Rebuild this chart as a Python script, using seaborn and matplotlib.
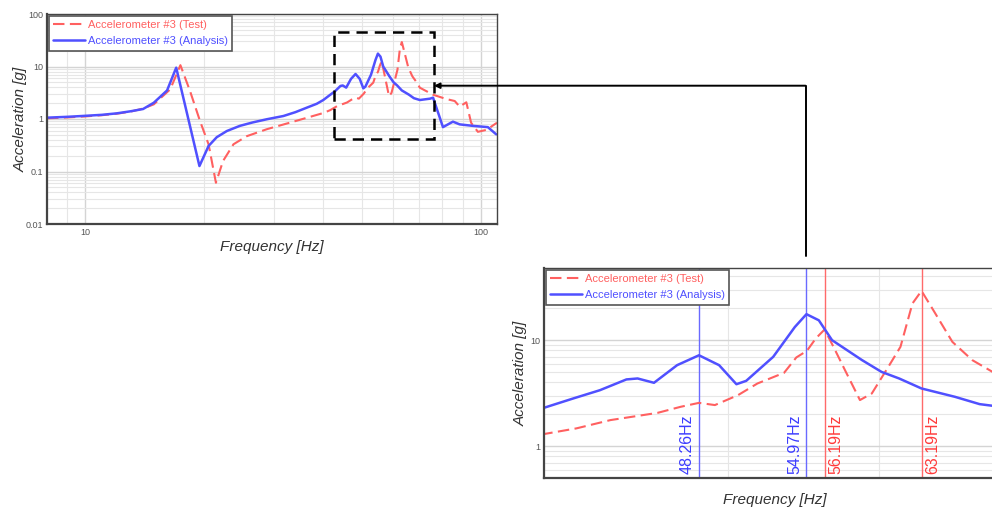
import numpy as np
import seaborn as sns
import matplotlib
matplotlib.use("Agg")
import matplotlib.pyplot as plt
from matplotlib.patches import Rectangle, FancyArrowPatch
from matplotlib.lines import Line2D
from matplotlib.ticker import LogLocator, FuncFormatter, NullFormatter

# Measured response of accelerometer #3 (test rig)
test_freq = [8.0, 9.0, 10.0, 11.0, 12.0, 13.0, 14.0, 14.9, 16.4, 17.4, 18.4, 19.5,
             20.5, 21.4, 22.3, 23.7, 25.6, 28.8, 33.6, 40.0, 41.6, 43.35, 45.9,
             47.2, 48.26, 49.2, 50.6, 51.8, 53.5, 54.3, 55.0, 55.6, 56.19, 56.8,
             57.6, 58.65, 59.5, 60.7, 61.6, 62.5, 63.19, 64.1, 65.6, 67.2, 69.0,
             70.2, 75.8, 81.9, 86.0, 88.5, 92.0, 94.6, 98.4, 103.4, 110.0]
test_acc = [1.03, 1.07, 1.12, 1.18, 1.26, 1.38, 1.58, 1.9, 3.68, 10.6, 3.42, 0.92,
            0.33, 0.061, 0.158, 0.33, 0.47, 0.64, 0.89, 1.30, 1.47, 1.76, 2.06,
            2.35, 2.56, 2.44, 3.03, 3.9, 4.92, 6.87, 7.93, 10.4, 12.6, 8.65,
            5.2, 2.72, 3.14, 5.6, 8.65, 22.2, 29.2, 19.2, 9.63, 6.48, 4.92,
            3.94, 2.9, 2.4, 2.2, 1.72, 2.08, 0.85, 0.57, 0.62, 0.85]

# Simulated response of accelerometer #3 (FE analysis)
analysis_freq = [8.0, 9.0, 10.0, 11.0, 12.0, 13.0, 14.0, 14.9, 16.1, 16.98, 19.44,
                 20.5, 21.5, 22.8, 24.6, 26.5, 28.8, 31.7, 34.0, 36.3, 38.5, 40.0,
                 41.45, 42.8, 44.2, 44.8, 45.7, 47.0, 48.26, 49.45, 50.5, 51.1,
                 52.8, 54.2, 54.97, 55.8, 56.7, 58.8, 60.2, 61.5, 63.19, 65.8,
                 67.8, 70.2, 74.5, 75.8, 80.3, 85.1, 88.5, 95.6, 104.3, 109.5]
analysis_acc = [1.06, 1.10, 1.15, 1.2, 1.28, 1.4, 1.55, 2.04, 3.5, 9.5, 0.127,
                0.306, 0.45, 0.59, 0.74, 0.86, 0.99, 1.14, 1.35, 1.64, 1.95, 2.3,
                2.82, 3.37, 4.26, 4.35, 3.96, 5.81, 7.2, 5.81, 3.84, 4.13,
                6.96, 13.3, 17.6, 15.4, 10.0, 6.48, 5.02, 4.35, 3.5, 2.92,
                2.49, 2.30, 2.44, 2.55, 0.70, 0.89, 0.79, 0.74, 0.70, 0.51]

# Resonance markers for the zoomed view
analysis_peaks = [48.26, 54.97]
test_peaks = [56.19, 63.19]

# Zoom window drawn on the overview
zoom_freq = [42.5, 76.0]
zoom_acc = [0.42, 45.0]

test_label = "Accelerometer #3 (Test)"
analysis_label = "Accelerometer #3 (Analysis)"

sns.set_theme(style="white")
plt.rcParams["font.family"] = ["Liberation Sans", "DejaVu Sans"]

RED = "#ff6060"
BLUE = "#5050ff"
RED_TXT = "#ff3a3a"
BLUE_TXT = "#3c3cff"
W, H = 992, 508

fig = plt.figure(figsize=(W / 100, H / 100), dpi=100)
ax_top = fig.add_axes([47 / W, 1 - 224 / H, 450 / W, 210 / H])
ax_zoom = fig.add_axes([544 / W, 1 - 478 / H, 462 / W, 210 / H])


def plain(v, pos):
    return f"{v:g}"


def style_axes(ax, xlim, ylim, xlabels=True):
    ax.set_xscale("log")
    ax.set_yscale("log")
    sns.lineplot(x=test_freq, y=test_acc, ax=ax, color=RED, lw=1.5,
                 linestyle=(0, (5.5, 2.6)), label=test_label, sort=False)
    sns.lineplot(x=analysis_freq, y=analysis_acc, ax=ax, color=BLUE, lw=1.8,
                 label=analysis_label, sort=False)
    ax.set_xlim(*xlim)
    ax.set_ylim(*ylim)
    for axis in (ax.xaxis, ax.yaxis):
        axis.set_major_locator(LogLocator(base=10, numticks=20))
        axis.set_minor_locator(LogLocator(base=10, subs=np.arange(2, 10), numticks=20))
        axis.set_minor_formatter(NullFormatter())
    ax.yaxis.set_major_formatter(FuncFormatter(plain))
    if xlabels:
        ax.xaxis.set_major_formatter(FuncFormatter(plain))
    else:
        ax.xaxis.set_major_formatter(NullFormatter())
    ax.grid(True, which="major", color="#d4d4d4", lw=1.0)
    ax.grid(True, which="minor", color="#e6e6e6", lw=0.8)
    ax.tick_params(which="both", length=0, labelsize=6.5, labelcolor="#555555", pad=3)
    for name, sp in ax.spines.items():
        sp.set_visible(True)
        sp.set_color("#444444")
        sp.set_linewidth(1.6 if name in ("left", "bottom") else 1.0)
    leg = ax.legend(loc="upper left", fontsize=8, frameon=True, fancybox=False,
                    edgecolor="#555555", framealpha=1, handlelength=2.9,
                    handletextpad=0.2, borderaxespad=0.15, borderpad=0.4,
                    labelspacing=0.55)
    leg.get_frame().set_linewidth(1.2)
    for text, line in zip(leg.get_texts(), leg.get_lines()):
        text.set_color(line.get_color())


style_axes(ax_top, (8.0, 110.0), (0.01, 100.0))
style_axes(ax_zoom, (40.0, 70.0), (0.5, 48.0), xlabels=False)

lab = dict(fontstyle="italic", fontsize=11, color="#333333")
ax_top.set_xlabel("Frequency [Hz]", labelpad=2, **lab)
ax_top.set_ylabel("Acceleration [g]", labelpad=-1.5, **lab)
ax_zoom.set_xlabel("Frequency [Hz]", labelpad=7.5, **lab)
ax_zoom.set_ylabel("Acceleration [g]", labelpad=1.5, **lab)

# Resonance markers with frequency labels
for f in analysis_peaks:
    ax_zoom.axvline(f, color="#6a6aff", lw=1.0, zorder=1.5)
    ax_zoom.annotate(f"{f:.2f}Hz", xy=(f, 0.02), xycoords=("data", "axes fraction"),
                     xytext=(-3, 0), textcoords="offset points", rotation=90,
                     ha="right", va="bottom", color=BLUE_TXT, fontsize=11.5)
for f in test_peaks:
    ax_zoom.axvline(f, color="#ff6a6a", lw=1.0, zorder=1.5)
    ax_zoom.annotate(f"{f:.2f}Hz", xy=(f, 0.02), xycoords=("data", "axes fraction"),
                     xytext=(3, 0), textcoords="offset points", rotation=90,
                     ha="left", va="bottom", color=RED_TXT, fontsize=11.5)

# Zoom window on the overview
rect = Rectangle((zoom_freq[0], zoom_acc[0]), zoom_freq[1] - zoom_freq[0],
                 zoom_acc[1] - zoom_acc[0], fill=False, ec="black", lw=1.8,
                 linestyle=(0, (4.5, 2.8)), zorder=5, clip_on=False)
ax_top.add_patch(rect)

# Connector from the zoomed view up to the window
xc = 805.5 / W
y_low = 1 - 256 / H
y_arrow = 1 - 85.7 / H
fig.add_artist(Line2D([xc, xc], [y_low, y_arrow], transform=fig.transFigure,
                      color="black", lw=1.4))
fig.add_artist(FancyArrowPatch((xc, y_arrow), (434 / W, y_arrow),
                               transform=fig.transFigure, arrowstyle="-|>",
                               mutation_scale=8, color="black", lw=1.4,
                               shrinkA=0, shrinkB=0))

fig.savefig("out.png", dpi=100)
